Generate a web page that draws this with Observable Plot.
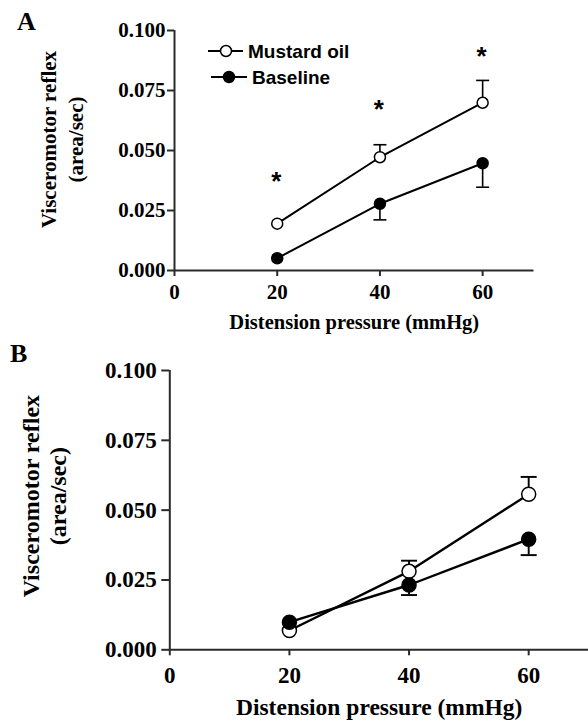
<!DOCTYPE html>
<html>
<head>
<meta charset="utf-8">
<script src="https://cdn.jsdelivr.net/npm/d3@7"></script>
<script src="https://cdn.jsdelivr.net/npm/@observablehq/plot@0.6"></script>
<style>
  html, body { margin: 0; padding: 0; background: white; }
  #wrap { position: relative; width: 588px; height: 720px; overflow: hidden; background: white; }
  #wrap svg.plot { display: block; }
  #overlay { position: absolute; left: 0; top: 0; pointer-events: none; }
</style>
</head>
<body>
<div id="wrap"></div>
<script>
// ---------- data ----------
const pressures = [20, 40, 60];
const xTicks = [0, 20, 40, 60];
const yTicks = [0, 0.025, 0.05, 0.075, 0.1];
const seriesNames = ["Mustard oil", "Baseline"];

// Panel A
const mustardA = [0.0195, 0.0472, 0.0699];
const mustardSemA = [0, 0.0052, 0.0093];
const baselineA = [0.0051, 0.0278, 0.0447];
const baselineSemA = [0, 0.0067, 0.0100];
const starsA = [0.0383, 0.0683, 0.0904];

// Panel B
const mustardB = [0.0069, 0.0281, 0.0557];
const mustardSemB = [0, 0.0038, 0.0062];
const baselineB = [0.0099, 0.0232, 0.0396];
const baselineSemB = [0, 0.0036, 0.0057];

const xLabel = "Distension pressure (mmHg)";
const yLabel = "Visceromotor reflex\n(area/sec)";

// ---------- helpers ----------
const axisColor = "#2a2a2a";
const capSymbol = {
  draw(ctx, size) {
    const w = Math.sqrt(size / Math.PI);
    ctx.moveTo(-w, 0);
    ctx.lineTo(w, 0);
  }
};

function rows(values, sems, dir) {
  return pressures.map((p, i) => ({p, v: values[i], e: sems[i], end: values[i] + dir * sems[i]}));
}

function panel(cfg) {
  const m = rows(cfg.mustard, cfg.mustardSem, +1);
  const b = rows(cfg.baseline, cfg.baselineSem, -1);
  const withErr = d => d.e > 0;
  const marks = [
    Plot.axisX({ticks: xTicks, tickSize: 6, tickPadding: cfg.xPad, label: null, stroke: axisColor, strokeWidth: 2, fill: "black"}),
    Plot.axisY({ticks: yTicks, tickFormat: d3.format(".3f"), tickSize: cfg.yTick, tickPadding: cfg.yPad, label: null, stroke: axisColor, strokeWidth: 2, fill: "black"}),
    Plot.ruleY([0], {stroke: axisColor, strokeWidth: 2}),
    Plot.ruleX([0], {stroke: axisColor, strokeWidth: 2}),
    // error bars
    Plot.ruleX(m.filter(withErr), {x: "p", y1: "v", y2: "end", stroke: "black", strokeWidth: cfg.lw * 0.8}),
    Plot.dot(m.filter(withErr), {x: "p", y: "end", symbol: capSymbol, r: cfg.cap, stroke: "black", strokeWidth: cfg.lw * 0.8, fill: "none"}),
    Plot.ruleX(b.filter(withErr), {x: "p", y1: "v", y2: "end", stroke: "black", strokeWidth: cfg.lw * 0.8}),
    Plot.dot(b.filter(withErr), {x: "p", y: "end", symbol: capSymbol, r: cfg.cap, stroke: "black", strokeWidth: cfg.lw * 0.8, fill: "none"}),
    // lines
    Plot.line(m, {x: "p", y: "v", stroke: "black", strokeWidth: cfg.lw}),
    Plot.line(b, {x: "p", y: "v", stroke: "black", strokeWidth: cfg.lw}),
    // markers
    Plot.dot(m, {x: "p", y: "v", r: cfg.r, fill: "white", stroke: "black", strokeWidth: 1.5}),
    Plot.dot(b, {x: "p", y: "v", r: cfg.r, fill: "black", stroke: "black", strokeWidth: 1.5}),
    // axis labels
    Plot.text([xLabel], {frameAnchor: "bottom", text: d => d, dy: cfg.xLabelDy, lineAnchor: "middle", textAnchor: "middle", fontSize: cfg.xLabelFont, fontWeight: "bold", fill: "black"}),
    Plot.text([yLabel], {frameAnchor: "left", text: d => d, rotate: -90, dx: cfg.yLabelDx, dy: cfg.yLabelDy, textAnchor: "middle", lineAnchor: "middle", lineHeight: cfg.yLabelLH, fontSize: cfg.yLabelFont, fontWeight: "bold", fill: "black"})
  ];
  if (cfg.stars) {
    marks.push(Plot.text(pressures.map((p, i) => ({p, s: cfg.stars[i]})), {
      x: "p", y: "s", text: () => "*", lineAnchor: "middle", dy: 3, dx: -1,
      fontFamily: "Liberation Sans", fontWeight: "bold", fontSize: 26, fill: "black"
    }));
  }
  return Plot.plot({
    width: 588,
    height: cfg.height,
    marginLeft: cfg.ml, marginRight: cfg.mr, marginTop: cfg.mt, marginBottom: cfg.mb,
    x: {domain: [0, 70]},
    y: {domain: [0, 0.1]},
    style: {fontFamily: "'Liberation Serif', 'DejaVu Serif', serif", fontWeight: "bold", fontSize: cfg.font + "px", color: "black", background: "white", overflow: "visible"},
    marks
  });
}

const wrap = document.getElementById("wrap");
const plotA = panel({
  height: 340, ml: 174, mr: 54.5, mt: 30, mb: 70,
  mustard: mustardA, mustardSem: mustardSemA, baseline: baselineA, baselineSem: baselineSemA,
  stars: starsA, r: 5.5, cap: 6.5, lw: 2, font: 21,
  xPad: 8, yTick: 7, yPad: 2, xLabelDy: 52, xLabelFont: 20.5,
  yLabelDx: -114, yLabelDy: -11, yLabelLH: 1.3, yLabelFont: 21
});
plotA.classList.add("plot");
wrap.appendChild(plotA);

const plotB = panel({
  height: 380, ml: 169.3, mr: 0, mt: 30, mb: 70.7,
  mustard: mustardB, mustardSem: mustardSemB, baseline: baselineB, baselineSem: baselineSemB,
  stars: null, r: 7, cap: 8, lw: 2.4, font: 23,
  xPad: 11, yTick: 8, yPad: 5, xLabelDy: 58, xLabelFont: 23.5,
  yLabelDx: -126, yLabelDy: -14, yLabelLH: 1.13, yLabelFont: 24
});
plotB.classList.add("plot");
wrap.appendChild(plotB);

// ---------- overlay: panel letters and legend ----------
const panelLetters = [
  {t: "A", x: 17, y: 30},
  {t: "B", x: 10, y: 362}
];
const legendItems = [
  {name: seriesNames[0], fill: "white", x1: 208, x2: 243, cx: 226, tx: 248, y: 51},
  {name: seriesNames[1], fill: "black", x1: 211, x2: 247, cx: 229, tx: 252, y: 77}
];
const ov = d3.create("svg").attr("id", "overlay").attr("width", 588).attr("height", 720);
ov.selectAll("text.letter").data(panelLetters).join("text")
  .attr("class", "letter").attr("x", d => d.x).attr("y", d => d.y)
  .attr("font-family", "'Liberation Serif', serif").attr("font-weight", "bold")
  .attr("font-size", 26).text(d => d.t);
const lg = ov.selectAll("g.leg").data(legendItems).join("g").attr("class", "leg");
lg.append("line").attr("x1", d => d.x1).attr("x2", d => d.x2).attr("y1", d => d.y).attr("y2", d => d.y)
  .attr("stroke", "black").attr("stroke-width", 2);
lg.append("circle").attr("cx", d => d.cx).attr("cy", d => d.y).attr("r", 5.5)
  .attr("fill", d => d.fill).attr("stroke", "black").attr("stroke-width", 1.5);
lg.append("text").attr("x", d => d.tx).attr("y", d => d.y).attr("dy", "0.36em")
  .attr("font-family", "'Liberation Sans', Arial, sans-serif").attr("font-weight", "bold")
  .attr("font-size", 19).text(d => d.name);
wrap.appendChild(ov.node());
</script>
</body>
</html>
